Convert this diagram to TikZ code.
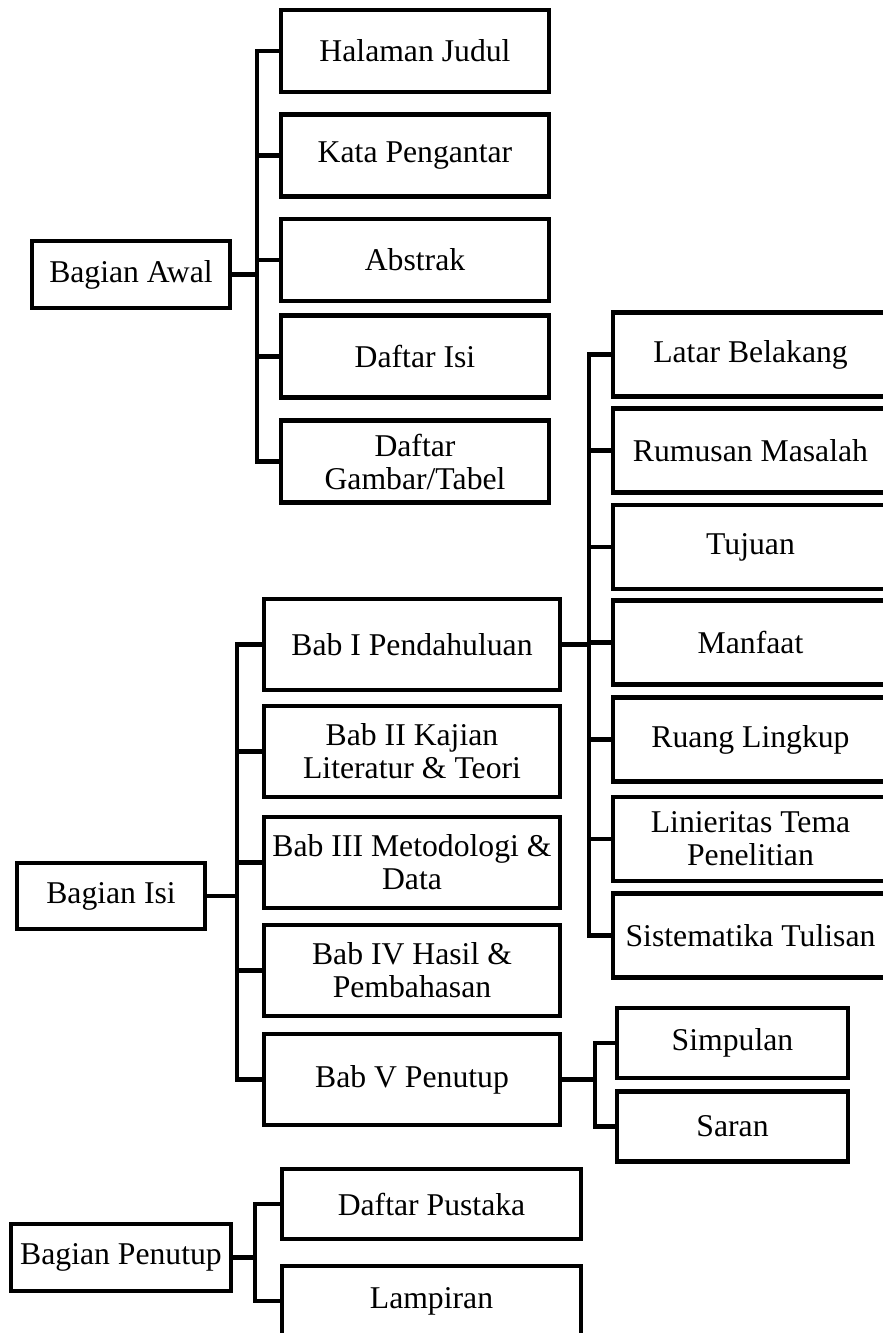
\documentclass[tikz,border=0pt]{standalone}
\usepackage{fontspec}
\setmainfont{Liberation Serif}
\usetikzlibrary{calc}

\tikzset{
  box/.style={draw, line width=4.2pt, line join=miter, align=center, inner sep=0pt,
    font=\fontsize{31.7}{33}\selectfont},
  link/.style={line width=4.2pt, line join=miter},
}

\begin{document}
\begin{tikzpicture}[x=1pt, y=-1pt]
        \useasboundingbox (0,0) rectangle (883,1333);
        \clip (0,0) rectangle (883,1333);

        \node[box, minimum width=198, minimum height=67] (awal) at (131,274.5) {Bagian Awal};
        \begin{scope}[every node/.append style={box, minimum width=268, minimum height=82}]
            \foreach \y / \i / \t in {51/1/{Halaman Judul}, 155.5/2/{Kata Pengantar}, 260/3/{Abstrak},
                                       356.5/4/{Daftar Isi}, 461.5/5/{Daftar\\Gambar/Tabel}} {
                \node (awal_\i) at (415,\y) {\t};
                \draw[link] (awal.east) -- ++(25,0) |- (awal_\i.west);
            }
        \end{scope}

        \node[box, minimum width=188, minimum height=66] (isi) at (111,896) {Bagian Isi};
        \begin{scope}[every node/.append style={box, minimum width=296, minimum height=91}]
            \foreach \y / \i / \t in {644.5/1/{Bab I Pendahuluan}, 751.5/2/{Bab II Kajian\\Literatur \& Teori},
                                       862.5/3/{Bab III Metodologi \&\\Data}, 970.5/4/{Bab IV Hasil \&\\Pembahasan},
                                       1079.5/5/{Bab V Penutup}} {
                \node (bab_\i) at (412,\y) {\t};
                \draw[link] (isi.east) -- ++(30,0) |- (bab_\i.west);
            }
        \end{scope}

        \begin{scope}[every node/.append style={box, minimum width=275, minimum height=84}]
            \foreach \y / \i / \t in {354.5/1/{Latar Belakang}, 450.5/2/{Rumusan Masalah}, 547/3/{Tujuan},
                                       642.5/4/{Manfaat}, 739.5/5/{Ruang Lingkup},
                                       839/6/{Linieritas Tema\\Penelitian}, 935.5/7/{Sistematika Tulisan}} {
                \node (pend_\i) at (750.5,\y) {\t};
                \draw[link] (bab_1.east) -- ++(27,0) |- (pend_\i.west);
            }
        \end{scope}

        \begin{scope}[every node/.append style={box, minimum width=231, minimum height=70}]
            \foreach \y / \i / \t in {1043/1/{Simpulan}, 1126.5/2/{Saran}} {
                \node (tutup_\i) at (732.5,\y) {\t};
                \draw[link] (bab_5.east) -- ++(33,0) |- (tutup_\i.west);
            }
        \end{scope}

        \node[box, minimum width=220, minimum height=67] (penutup) at (121,1257.5) {Bagian Penutup};
        \begin{scope}[every node/.append style={box, minimum width=299, minimum height=70}]
            \foreach \y / \i / \t in {1204/1/{Daftar Pustaka}, 1301/2/{Lampiran}} {
                \node (akhir_\i) at (431.5,\y) {\t};
                \draw[link] (penutup.east) -- ++(21.5,0) |- (akhir_\i.west);
            }
        \end{scope}
\end{tikzpicture}
\end{document}
